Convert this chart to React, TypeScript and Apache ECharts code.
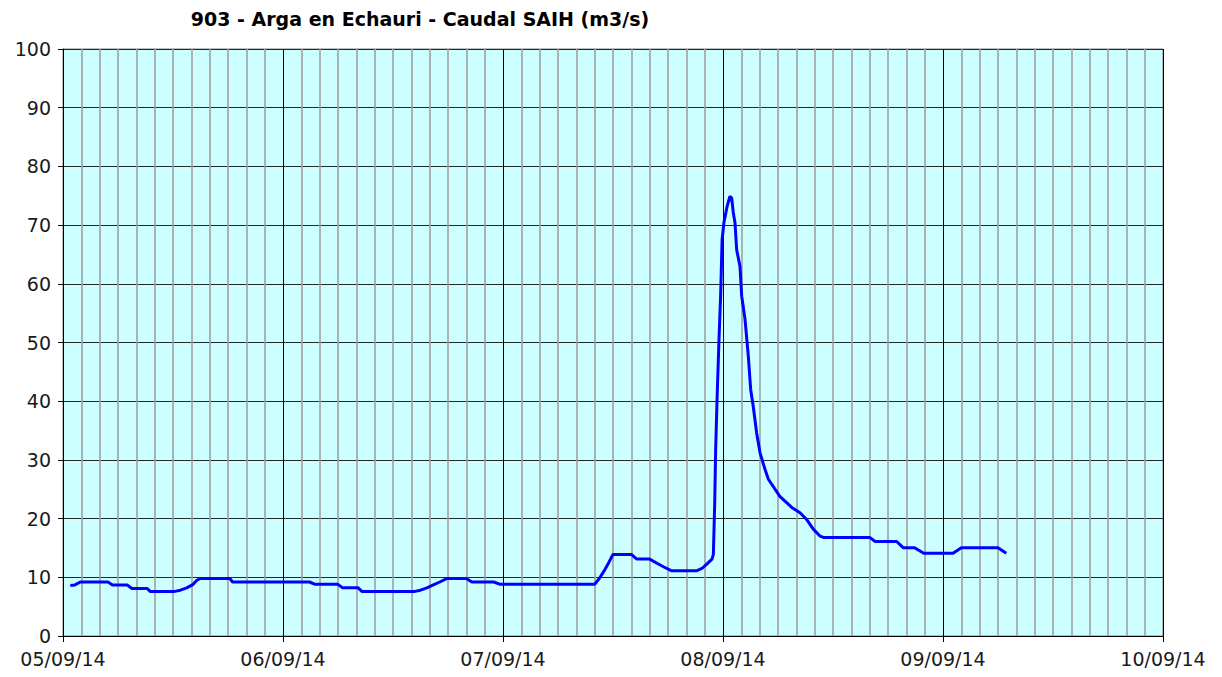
import React, { useEffect, useRef } from "react";
import * as echarts from "echarts";

// hours since 05/09/14 00:00
const hours = [
  0.8, 1.3, 1.9, 4.9, 5.4, 7.0, 7.5, 9.2, 9.5, 12.2, 12.8, 13.5, 14.2, 14.6, 15.0, 18.2, 18.5,
  26.9, 27.5, 30.0, 30.5, 32.2, 32.6, 38.4, 39.0, 39.7, 40.4, 41.1, 41.9, 44.0, 44.6, 47.0, 47.7,
  58.0, 58.5, 59.0, 59.5, 60.0, 62.0, 62.6, 64.0, 64.8, 65.5, 66.4, 69.1, 69.7, 70.2, 70.8, 70.95,
  71.1, 71.2, 71.35, 71.55, 71.75, 71.9, 72.1, 72.45, 72.75, 72.95, 73.13, 73.31, 73.49, 73.85,
  74.04, 74.4, 74.76, 75.02, 75.3, 75.67, 76.04, 76.58, 76.95, 78.2, 79.5, 80.4, 81.1, 81.85,
  82.6, 82.95, 88.0, 88.6, 90.95, 91.65, 92.9, 93.9, 97.1, 98.0, 102.0, 102.9,
];

// caudal (m3/s)
const flow = [
  8.6, 8.7, 9.2, 9.2, 8.7, 8.7, 8.1, 8.1, 7.6, 7.6, 7.8, 8.2, 8.8, 9.5, 9.8, 9.8, 9.2,
  9.2, 8.8, 8.8, 8.2, 8.2, 7.6, 7.6, 7.8, 8.2, 8.7, 9.2, 9.8, 9.8, 9.2, 9.2, 8.8,
  8.8, 9.8, 11.0, 12.4, 13.9, 13.9, 13.1, 13.1, 12.4, 11.8, 11.1, 11.1, 11.5, 12.2, 13.1, 13.9,
  23.0, 31.8, 40.2, 49.9, 58.4, 67.5, 70.4, 73.2, 74.9, 74.6, 72.0, 70.4, 65.8, 63.0,
  57.9, 54.0, 47.7, 42.0, 39.1, 34.6, 31.2, 28.4, 26.7, 23.8, 21.9, 21.0, 19.9, 18.2,
  17.0, 16.8, 16.8, 16.1, 16.1, 15.05, 15.05, 14.1, 14.1, 15.05, 15.05, 14.1,
];

const dayLabels = ["05/09/14", "06/09/14", "07/09/14", "08/09/14", "09/09/14", "10/09/14"];

const title = "903 - Arga en Echauri - Caudal SAIH (m3/s)";

export default function App() {
  const ref = useRef<HTMLDivElement>(null);
  useEffect(() => {
    if (!ref.current) return;
    const chart = echarts.init(ref.current, undefined, { renderer: "svg" });
    const font = "DejaVu Sans, Verdana, sans-serif";
    chart.setOption({
      animation: false,
      backgroundColor: "#ffffff",
      title: {
        text: title,
        left: 415,
        top: 4,
        textAlign: "center",
        textStyle: { fontFamily: font, fontSize: 19, fontWeight: "bold", color: "#000" },
      },
      grid: {
        left: 63,
        right: 59,
        top: 49,
        bottom: 41,
        show: true,
        backgroundColor: "#ccffff",
        borderColor: "#808080",
        borderWidth: 1,
      },
      xAxis: {
        type: "value",
        min: 0,
        max: 120,
        interval: 24,
        axisLine: { show: true, lineStyle: { color: "#000", width: 1 } },
        axisTick: { show: true, length: 6, lineStyle: { color: "#000" } },
        minorTick: { show: false, splitNumber: 12 },
        minorSplitLine: { show: true, lineStyle: { color: "#a0a0a0", width: 1.6 } },
        splitLine: { show: true, lineStyle: { color: "#000", width: 1 } },
        axisLabel: {
          margin: 13,
          fontFamily: font,
          fontSize: 19,
          color: "#1a1a1a",
          formatter: (v: number) => dayLabels[Math.round(v / 24)] ?? "",
        },
      },
      yAxis: {
        type: "value",
        min: 0,
        max: 100,
        interval: 10,
        axisLine: { show: true, lineStyle: { color: "#000", width: 1 } },
        axisTick: { show: true, length: 5, lineStyle: { color: "#000" } },
        splitLine: { show: true, lineStyle: { color: "#262626", width: 1 } },
        axisLabel: { margin: 12, fontFamily: font, fontSize: 19, color: "#1a1a1a" },
      },
      series: [
        {
          type: "line",
          data: hours.map((h, i) => [h, flow[i]]),
          showSymbol: false,
          lineStyle: { color: "#0000ff", width: 3 },
          itemStyle: { color: "#0000ff" },
        },
      ],
    });
    return () => chart.dispose();
  }, []);
  return (
    <div
      ref={ref}
      style={{ position: "fixed", left: 0, top: 0, width: 1222, height: 677 }}
    />
  );
}
